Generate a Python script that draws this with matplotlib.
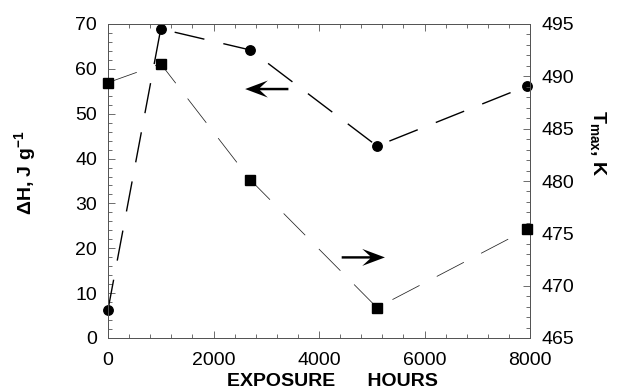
import matplotlib
matplotlib.use("Agg")
import matplotlib.pyplot as plt
from matplotlib.patches import FancyArrow
from matplotlib.ticker import MultipleLocator

plt.rcParams['font.family'] = ['Liberation Sans', 'DejaVu Sans']
plt.rcParams['mathtext.fontset'] = 'custom'
plt.rcParams['mathtext.rm'] = 'Liberation Sans'
plt.rcParams['mathtext.bf'] = 'Liberation Sans:bold'
plt.rcParams['lines.scale_dashes'] = False

# Exposure time (hours)
hours = [0, 1000, 2700, 5100, 7950]
# Heat of reaction, J/g (circles, left axis)
delta_h = [6.3, 68.9, 64.2, 42.8, 56.2]
# Peak temperature, K (squares, right axis)
t_max = [489.4, 491.2, 480.1, 467.9, 475.4]

x_ticks = [0, 2000, 4000, 6000, 8000]
dh_ticks = [0, 10, 20, 30, 40, 50, 60, 70]
t_ticks = [465, 470, 475, 480, 485, 490, 495]

fig = plt.figure(figsize=(6.21, 3.92), dpi=100)
ax = fig.add_axes([108 / 621, 1 - 338 / 392, 422 / 621, 314 / 392])
ax2 = ax.twinx()

ax.plot(hours, delta_h, color='black', lw=1.0, dashes=(22, 14),
        marker='o', ms=6.8, mfc='black', mec='black', zorder=3, clip_on=False)
ax2.plot(hours, t_max, color='#222222', lw=0.55, dashes=(22, 14),
         marker='s', ms=7.7, mfc='black', mec='black', zorder=3, clip_on=False)

ax.set_xlim(0, 8000)
ax.set_ylim(0, 70)
ax2.set_ylim(465, 495)

ax.set_xticks(x_ticks)
ax.set_yticks(dh_ticks)
ax2.set_yticks(t_ticks)
ax.xaxis.set_minor_locator(MultipleLocator(400))
ax.yaxis.set_minor_locator(MultipleLocator(2))
ax2.yaxis.set_minor_locator(MultipleLocator(1))

for a in (ax, ax2):
    for s in a.spines.values():
        s.set_linewidth(0.7)
        s.set_color('#555555')
ax.tick_params(which='both', direction='in', top=True, color='#555555', width=0.6,
               labelsize=14)
ax.tick_params(axis='x', pad=10)
ax.tick_params(axis='y', pad=8)
ax.tick_params(which='major', length=5)
ax.tick_params(which='minor', length=3)
ax2.tick_params(which='both', direction='in', color='#555555', width=0.6,
                labelsize=14, pad=8)
ax2.tick_params(which='major', length=5)
ax2.tick_params(which='minor', length=3)

fig.text(332 / 621, 1 - 381 / 392, 'EXPOSURE      HOURS', fontsize=14,
         fontweight='bold', ha='center', va='center')
ax.set_ylabel(r'ΔH, J g$^{\mathbf{-1}}$', fontsize=14, fontweight='bold',
              va='center')
ax.yaxis.set_label_coords(-0.194, 0.525)
ax2.set_ylabel(r'T$_{\mathbf{max}}$, K', fontsize=14, fontweight='bold',
               rotation=270, va='center')
ax2.yaxis.set_label_coords(1.16, 0.62)

# Notched arrows pointing each series to its axis (horizontal, so the
# length is in hours and the widths are in the y units of each axis)
ax.add_patch(FancyArrow(3420, 55.5, -820, 0, width=0.55, head_width=3.8,
                        head_length=430, overhang=0.35,
                        length_includes_head=True, color='black', lw=0))
ax2.add_patch(FancyArrow(4430, 472.7, 820, 0, width=0.23, head_width=1.62,
                         head_length=430, overhang=0.35,
                         length_includes_head=True, color='black', lw=0))

fig.savefig('out.png', dpi=100)
